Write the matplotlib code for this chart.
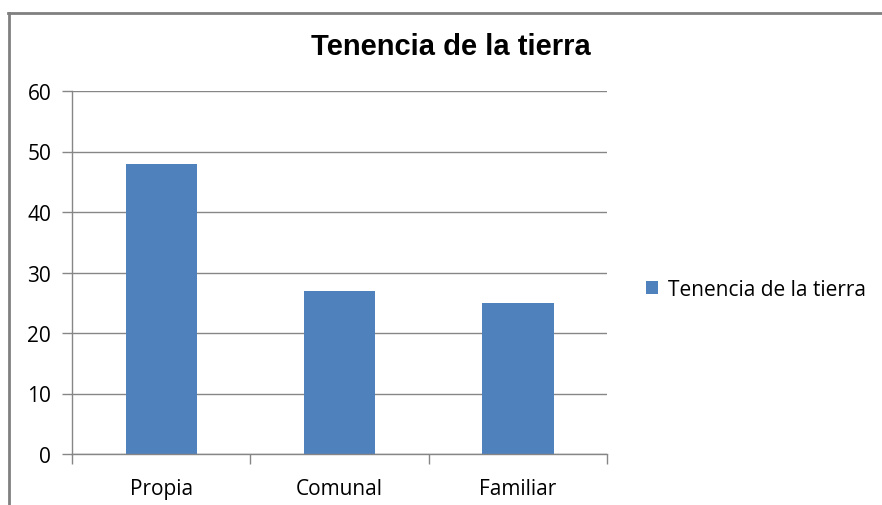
import matplotlib
matplotlib.use("Agg")
import matplotlib.pyplot as plt
from matplotlib.lines import Line2D
import numpy as np

categories = ["Propia", "Comunal", "Familiar"]
values = [48, 27, 25]
series_name = "Tenencia de la tierra"
y_ticks = [0, 10, 20, 30, 40, 50, 60]

BAR_COLOR = "#4F81BD"
GRID_COLOR = "#868686"
FONT = "Open Sans"
FS = 15

fig = plt.figure(figsize=(8.82, 5.06), dpi=100)
ax = fig.add_axes([72 / 882, 51 / 506, 535 / 882, 363 / 506])

x = np.arange(len(categories))
ax.bar(x, values, width=0.4, color=BAR_COLOR, label=series_name, zorder=3)

ax.set_xlim(-0.5, len(categories) - 0.5)
ax.set_ylim(0, 60)
ax.set_yticks(y_ticks)
ax.set_yticklabels([str(v) for v in y_ticks], fontname=FONT, fontsize=FS)
ax.yaxis.grid(True, color=GRID_COLOR, linewidth=1, zorder=0)

# category labels centred, tick marks on category boundaries
ax.set_xticks(x)
ax.set_xticklabels(categories, fontname=FONT, fontsize=FS)
ax.tick_params(axis="x", which="major", length=0, pad=17)
ax.set_xticks(np.arange(len(categories) + 1) - 0.5, minor=True)
ax.tick_params(axis="x", which="minor", length=7, color=GRID_COLOR, width=1)
ax.tick_params(axis="y", length=7, color=GRID_COLOR, width=1, pad=8)

for side in ["top", "right"]:
    ax.spines[side].set_visible(False)
for side in ["left", "bottom"]:
    ax.spines[side].set_color(GRID_COLOR)
    ax.spines[side].set_linewidth(1)
    ax.spines[side].set_zorder(4)

fig.text(451 / 882, 1 - 47 / 506, series_name, ha="center", va="center",
         fontname="Liberation Sans", fontweight="bold", fontsize=21)

fig.legend(loc="center left", bbox_to_anchor=(627 / 882, 1 - 290 / 506),
           frameon=False, prop={"family": FONT, "size": FS},
           handlelength=0.6, handleheight=0.6, handletextpad=0.45)

# outer chart border (only top and left visible in the crop)
fig.add_artist(Line2D([8 / 882, 1], [1 - 14 / 506, 1 - 14 / 506],
                      transform=fig.transFigure, color="#808080", linewidth=2))
fig.add_artist(Line2D([9 / 882, 9 / 882], [0, 1 - 14 / 506],
                      transform=fig.transFigure, color="#808080", linewidth=2))

fig.savefig("out.png", dpi=100)
